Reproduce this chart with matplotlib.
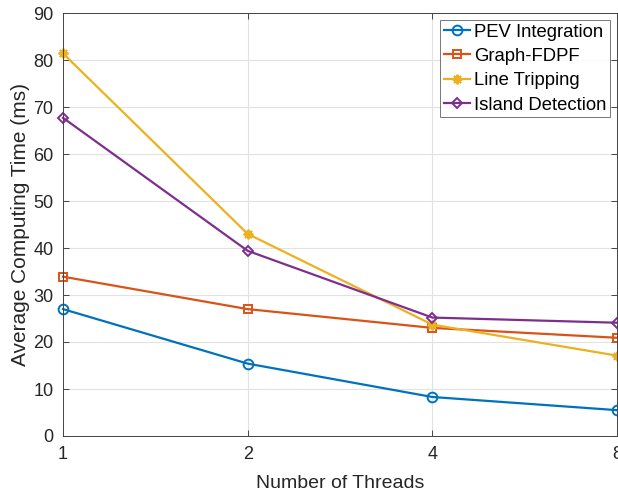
import matplotlib
matplotlib.use("Agg")
import matplotlib.pyplot as plt
import numpy as np

plt.rcParams['font.family'] = ['Liberation Sans', 'DejaVu Sans']

threads = ["1", "2", "4", "8"]
pev_integration = [27.0, 15.4, 8.3, 5.5]
graph_fdpf = [33.9, 27.0, 23.0, 20.9]
line_tripping = [81.4, 43.0, 23.7, 17.1]
island_detection = [67.7, 39.4, 25.2, 24.1]

series = [
    ("PEV Integration", pev_integration, "#0072BD", "o", 7),
    ("Graph-FDPF", graph_fdpf, "#D95319", "s", 5.5),
    ("Line Tripping", line_tripping, "#EDB120", (8, 2, 0), 7),
    ("Island Detection", island_detection, "#7E2F8E", "D", 5.2),
]

fig = plt.figure(figsize=(6.18, 4.95), dpi=100)
ax = fig.add_axes([63 / 618, 59 / 495, 554 / 618, 423 / 495])

x = np.arange(len(threads))
for name, vals, color, marker, ms in series:
    ax.plot(x, vals, color=color, marker=marker, markersize=ms,
            markerfacecolor="none", markeredgecolor=color,
            markeredgewidth=1.4, linewidth=1.6, label=name, clip_on=False)

ax.set_xlim(0, len(threads) - 1)
ax.set_ylim(0, 90)
ax.set_xticks(x)
ax.set_xticklabels(threads)
ax.set_yticks(np.arange(0, 91, 10))

ax.grid(True, color="#e2e2e2", linewidth=0.8)
ax.set_axisbelow(True)
for s in ax.spines.values():
    s.set_color("#444444")
    s.set_linewidth(0.7)
ax.tick_params(direction="in", length=4, width=0.7, color="#444444",
               labelsize=13, labelcolor="#262626", top=True, right=True, pad=7)

ax.set_xlabel("Number of Threads", fontsize=14, color="#262626", labelpad=9)
ax.set_ylabel("Average Computing Time (ms)", fontsize=15, color="#262626", labelpad=2)

leg = ax.legend(loc="upper right", fontsize=13.3, frameon=True, fancybox=False,
                edgecolor="#555555", handlelength=1.45, handletextpad=0.2,
                borderpad=0.2, labelspacing=0.4, borderaxespad=0.37)
leg.get_frame().set_linewidth(0.7)

fig.savefig("out.png", dpi=100)
